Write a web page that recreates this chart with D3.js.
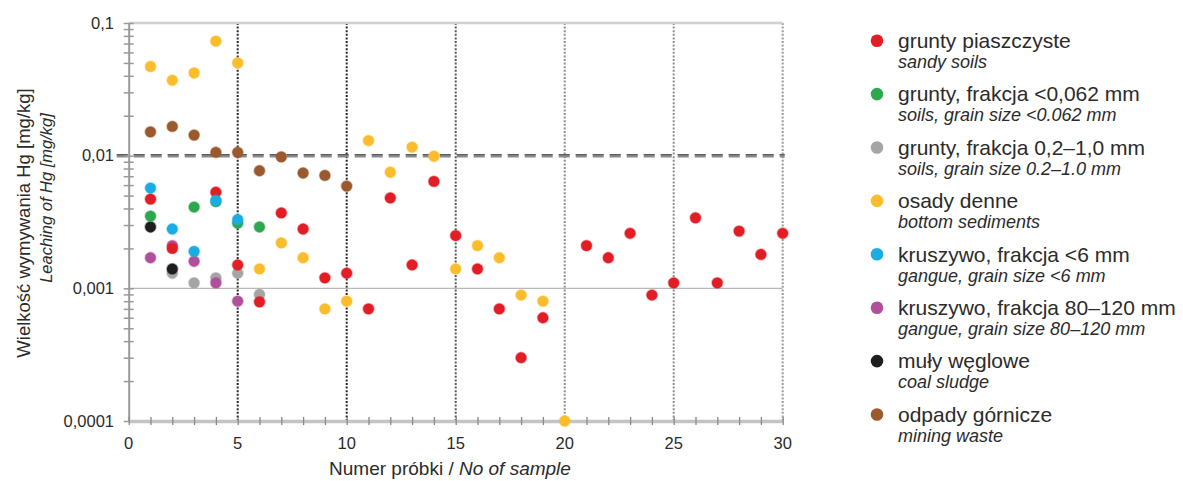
<!DOCTYPE html>
<html>
<head>
<meta charset="utf-8">
<script src="https://cdn.jsdelivr.net/npm/d3@7"></script>
<style>
    body { margin: 0; background: #fff; }
    text { font-family: "Liberation Sans", Arial, sans-serif; fill: #2b2b2b; }
    .it { font-style: italic; }
</style>
</head>
<body>
<svg id="chart" width="1183" height="481"></svg>
<script>
// legend labels (PL / EN)
const namesPl = ['grunty piaszczyste', 'grunty, frakcja <0,062 mm', 'grunty, frakcja 0,2\u20131,0 mm', 'osady denne',
    'kruszywo, frakcja <6 mm', 'kruszywo, frakcja 80\u2013120 mm', 'muły węglowe', 'odpady górnicze'];
const namesEn = ['sandy soils', 'soils, grain size <0.062 mm', 'soils, grain size 0.2\u20131.0 mm', 'bottom sediments',
    'gangue, grain size <6 mm', 'gangue, grain size 80\u2013120 mm', 'coal sludge', 'mining waste'];
const colors = ['#e31d25', '#2ea84e', '#a5a5a5', '#fbbd2b', '#1aade4', '#b24f9c', '#1e1e1e', '#9b5a2d'];

// sample numbers and Hg leaching per group
const sandyX = [1, 2, 4, 5, 6, 7, 8, 9, 10, 11, 12, 13, 14, 15, 16, 17, 18, 19, 21, 22, 23, 24, 25, 26, 27, 28, 29, 30];
const sandyY = [0.0047, 0.002, 0.0053, 0.0015, 0.00079, 0.0037, 0.0028, 0.0012, 0.0013, 0.0007, 0.0048, 0.0015, 0.0064, 0.0025,
    0.0014, 0.0007, 0.0003, 0.0006, 0.0021, 0.0017, 0.0026, 0.00089, 0.0011, 0.0034, 0.0011, 0.0027, 0.0018, 0.0026];
const fineX = [1, 3, 4, 5, 6];
const fineY = [0.0035, 0.0041, 0.0045, 0.0031, 0.0029];
const coarseX = [2, 3, 4, 5, 6];
const coarseY = [0.0013, 0.0011, 0.0012, 0.0013, 0.0009];
const sedX = [1, 2, 3, 4, 5, 6, 7, 8, 9, 10, 11, 12, 13, 14, 15, 16, 17, 18, 19, 20];
const sedY = [0.047, 0.037, 0.042, 0.073, 0.05, 0.0014, 0.0022, 0.0017, 0.0007, 0.0008, 0.013, 0.0075, 0.0116, 0.0099,
    0.0014, 0.0021, 0.0017, 0.00089, 0.0008, 0.0001];
const gangue6X = [1, 2, 3, 4, 5];
const gangue6Y = [0.0057, 0.0028, 0.0019, 0.0046, 0.0033];
const gangue80X = [1, 2, 3, 4, 5];
const gangue80Y = [0.0017, 0.0021, 0.0016, 0.0011, 0.0008];
const sludgeX = [1, 2];
const sludgeY = [0.0029, 0.0014];
const wasteX = [1, 2, 3, 4, 5, 6, 7, 8, 9, 10];
const wasteY = [0.0151, 0.0166, 0.0143, 0.0106, 0.0106, 0.0077, 0.0098, 0.0074, 0.0071, 0.0059];

const xTicks = [0, 5, 10, 15, 20, 25, 30];
const yTicks = [0.0001, 0.001, 0.01, 0.1];
const yTickLabels = ['0,0001', '0,001', '0,01', '0,1'];
const limitValue = 0.01;

let svg = d3.select('#chart');

let x = d3.scaleLinear().domain([0, 30]).range([128.7, 782.7]);
let y = d3.scaleLog().domain([0.0001, 0.1]).range([421, 23]);

//Reference lines at sample 5, 10 ... 30
let vColors = { 5: '#2a2a2a', 10: '#2a2a2a', 15: '#5a5a5a', 20: '#8e8e8e', 25: '#8e8e8e', 30: '#9a9a9a' };
svg.append('g').selectAll('line')
    .data(xTicks.slice(1))
    .enter().append('line')
    .attr('x1', d => x(d)).attr('x2', d => x(d))
    .attr('y1', y(0.1)).attr('y2', y(0.0001))
    .attr('stroke', d => vColors[d])
    .attr('stroke-width', 2)
    .attr('stroke-dasharray', '2,1.6');

//Top border and the 0.001 line
svg.append('line')
    .attr('x1', x(0)).attr('x2', x(30)).attr('y1', y(0.1)).attr('y2', y(0.1))
    .attr('stroke', '#d0d0d0').attr('stroke-width', 2.5);
svg.append('line')
    .attr('x1', x(0)).attr('x2', x(30)).attr('y1', y(0.001)).attr('y2', y(0.001))
    .attr('stroke', '#b9b9b9').attr('stroke-width', 1.4);

//Limit line 0.01
svg.append('line')
    .attr('x1', x(0) - 12).attr('x2', x(30) + 2).attr('y1', y(limitValue)).attr('y2', y(limitValue))
    .attr('stroke', '#8a8a8a').attr('stroke-width', 3.5)
    .attr('stroke-dasharray', '11,6');
svg.append('line')
    .attr('x1', x(0) - 12).attr('x2', x(30) + 2).attr('y1', y(limitValue) - 1).attr('y2', y(limitValue) - 1)
    .attr('stroke', '#555').attr('stroke-width', 1)
    .attr('stroke-dasharray', '11,6');

//Y axis with log minor ticks
let minor = [];
for (let e = -4; e < -1; e++) {
    for (let m = 1; m < 10; m++) minor.push(m * Math.pow(10, e));
}
minor.push(0.1);
let yAxis = d3.axisLeft(y)
    .tickValues(minor)
    .tickSize(0)
    .tickFormat('');
let yg = svg.append('g').attr('transform', `translate(${x(0)},0)`).call(yAxis);
yg.select('.domain').attr('stroke', '#9a9a9a').attr('stroke-width', 2);
yg.selectAll('.tick line')
    .attr('x1', -5).attr('x2', 5)
    .attr('stroke', '#9a9a9a').attr('stroke-width', 1.5);

svg.append('g').selectAll('text')
    .data(yTicks)
    .enter().append('text')
    .attr('x', 114)
    .attr('y', d => y(d))
    .attr('dy', '0.35em')
    .attr('text-anchor', 'end')
    .style('font-size', '16.5px')
    .text((d, i) => yTickLabels[i]);

//X axis
let xAxis = d3.axisBottom(x)
    .tickValues(d3.range(0, 31))
    .tickSize(0)
    .tickFormat('');
let xg = svg.append('g').attr('transform', `translate(0,${y(0.0001)})`).call(xAxis);
xg.select('.domain').attr('stroke', '#c4c4c4').attr('stroke-width', 3.5);
xg.selectAll('.tick line')
    .attr('y1', -4).attr('y2', 4)
    .attr('stroke', '#8a8a8a').attr('stroke-width', 1.3);

svg.append('g').selectAll('text')
    .data(xTicks)
    .enter().append('text')
    .attr('x', d => x(d))
    .attr('y', 443)
    .attr('dy', '0.35em')
    .attr('text-anchor', 'middle')
    .style('font-size', '16.5px')
    .text(d => d);

//Axis titles
let xTitle = svg.append('text')
    .attr('x', 450).attr('y', 468).attr('dy', '0.35em')
    .attr('text-anchor', 'middle')
    .style('font-size', '19px');
xTitle.append('tspan').text('Numer próbki / ');
xTitle.append('tspan').classed('it', true).text('No of sample');

svg.append('text')
    .attr('transform', 'translate(24,223) rotate(-90)')
    .attr('dy', '0.35em')
    .attr('text-anchor', 'middle')
    .style('font-size', '18.5px')
    .text('Wielkość wymywania Hg [mg/kg]');
svg.append('text')
    .classed('it', true)
    .attr('transform', 'translate(46,198) rotate(-90)')
    .attr('dy', '0.35em')
    .attr('text-anchor', 'middle')
    .style('font-size', '16.5px')
    .text('Leaching of Hg  [mg/kg]');

//Points, drawn in this order so the overlaps look right
let groups = [
    { xs: wasteX, ys: wasteY, c: 7 },
    { xs: sedX, ys: sedY, c: 3 },
    { xs: coarseX, ys: coarseY, c: 2 },
    { xs: sludgeX, ys: sludgeY, c: 6 },
    { xs: gangue80X, ys: gangue80Y, c: 5 },
    { xs: sandyX, ys: sandyY, c: 0 },
    { xs: fineX, ys: fineY, c: 1 },
    { xs: gangue6X, ys: gangue6Y, c: 4 }
];
groups.forEach(function (g) {
    let pts = g.xs.map((d, i) => [d, g.ys[i]]);
    svg.append('g').selectAll('circle')
        .data(pts)
        .enter().append('circle')
        .attr('cx', d => x(d[0]))
        .attr('cy', d => y(d[1]))
        .attr('r', 5.4)
        .attr('fill', colors[g.c])
        .attr('stroke', colors[g.c])
        .attr('stroke-opacity', 0.35)
        .attr('stroke-width', 1.6);
});

//Legend
let legend = svg.append('g').selectAll('g')
    .data(namesPl)
    .enter().append('g')
    .attr('transform', (d, i) => `translate(877,${40.7 + i * 53.4})`);
legend.append('circle')
    .attr('r', 6.3)
    .attr('fill', (d, i) => colors[i]);
legend.append('text')
    .attr('x', 21).attr('y', 0).attr('dy', '0.35em')
    .style('font-size', '21px')
    .text(d => d);
legend.append('text')
    .classed('it', true)
    .attr('x', 21).attr('y', 21).attr('dy', '0.35em')
    .style('font-size', '18px')
    .text((d, i) => namesEn[i]);
</script>
</body>
</html>
